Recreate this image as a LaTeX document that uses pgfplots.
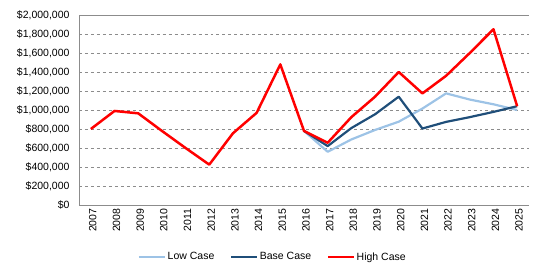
\documentclass[border=0pt]{standalone}
\usepackage{pgfplots}
\pgfplotsset{compat=1.18}
\usepackage{fontspec}
\setmainfont{Liberation Sans}
\definecolor{lowc}{RGB}{157,195,230}
\definecolor{basec}{RGB}{31,78,121}
\definecolor{highc}{RGB}{255,0,0}
\definecolor{gridc}{RGB}{140,140,140}
\begin{document}
\begin{tikzpicture}
\path[use as bounding box] (-79bp,-66bp) rectangle (456bp,205bp);
\begin{axis}[
  scale only axis,
  width=450bp, height=190bp,
  xmin=2006.5, xmax=2025.5,
  ymin=0, ymax=2000000,
  axis x line*=bottom, axis y line*=left,
  axis line style={gridc, line width=0.8pt},
  every outer x axis line/.append style={-}, every outer y axis line/.append style={-},
  xtick={2007,...,2025},
  ytick={0,200000,...,2000000},
  major tick length=0pt,
  ymajorgrids,
  major grid style={gridc, dashed, line width=0.8pt},
  extra y ticks={2000000}, extra y tick labels={},
  extra y tick style={grid=major, major grid style={gridc, solid, line width=0.8pt}},
  scaled y ticks=false,
  x tick label style={rotate=90, anchor=east, yshift=-2bp, font=\fontsize{10.5bp}{12bp}\selectfont, /pgf/number format/1000 sep={}, /pgf/number format/assume math mode=true},
  y tick label style={xshift=-6bp, font=\fontsize{10.5bp}{12bp}\selectfont, /pgf/number format/fixed, /pgf/number format/precision=0, /pgf/number format/1000 sep={,}, /pgf/number format/assume math mode=true},
  yticklabel={\$\pgfmathprintnumber{\tick}},
  xticklabel={\pgfmathprintnumber[1000 sep={}]{\tick}},
  ytick style={draw=none}, xtick style={draw=none},
  legend style={at={(0.43,-0.274)}, anchor=center, draw=none, legend columns=3,
    font=\fontsize{10.5bp}{12bp}\selectfont,
    /tikz/every even column/.append style={column sep=14bp},
    /tikz/every odd column/.append style={column sep=0bp},
    nodes={inner xsep=1.5bp}},
  legend image code/.code={\draw[#1, line width=2.5pt] (0bp,0bp) -- (26bp,0bp);},
]
\addplot[lowc, line width=2.2pt, line join=round] coordinates {
(2016,780000) (2017,560000) (2018,690000) (2019,790000) (2020,877000) (2021,1015000)
(2022,1175000) (2023,1110000) (2024,1060000) (2025,1000000)};
\addlegendentry{Low Case}
\addplot[basec, line width=2.2pt, line join=round] coordinates {
(2016,780000) (2017,620000) (2018,810000) (2019,955000) (2020,1140000) (2021,805000)
(2022,875000) (2023,925000) (2024,980000) (2025,1040000)};
\addlegendentry{Base Case}
\addplot[highc, line width=2.5pt, line join=round] coordinates {
(2007,800000) (2008,990000) (2009,965000) (2010,780000) (2011,600000) (2012,425000)
(2013,755000) (2014,970000) (2015,1480000) (2016,780000) (2017,655000) (2018,925000)
(2019,1140000) (2020,1400000) (2021,1175000) (2022,1360000) (2023,1600000)
(2024,1850000) (2025,1040000)};
\addlegendentry{High Case}
\end{axis}
\end{tikzpicture}
\end{document}
